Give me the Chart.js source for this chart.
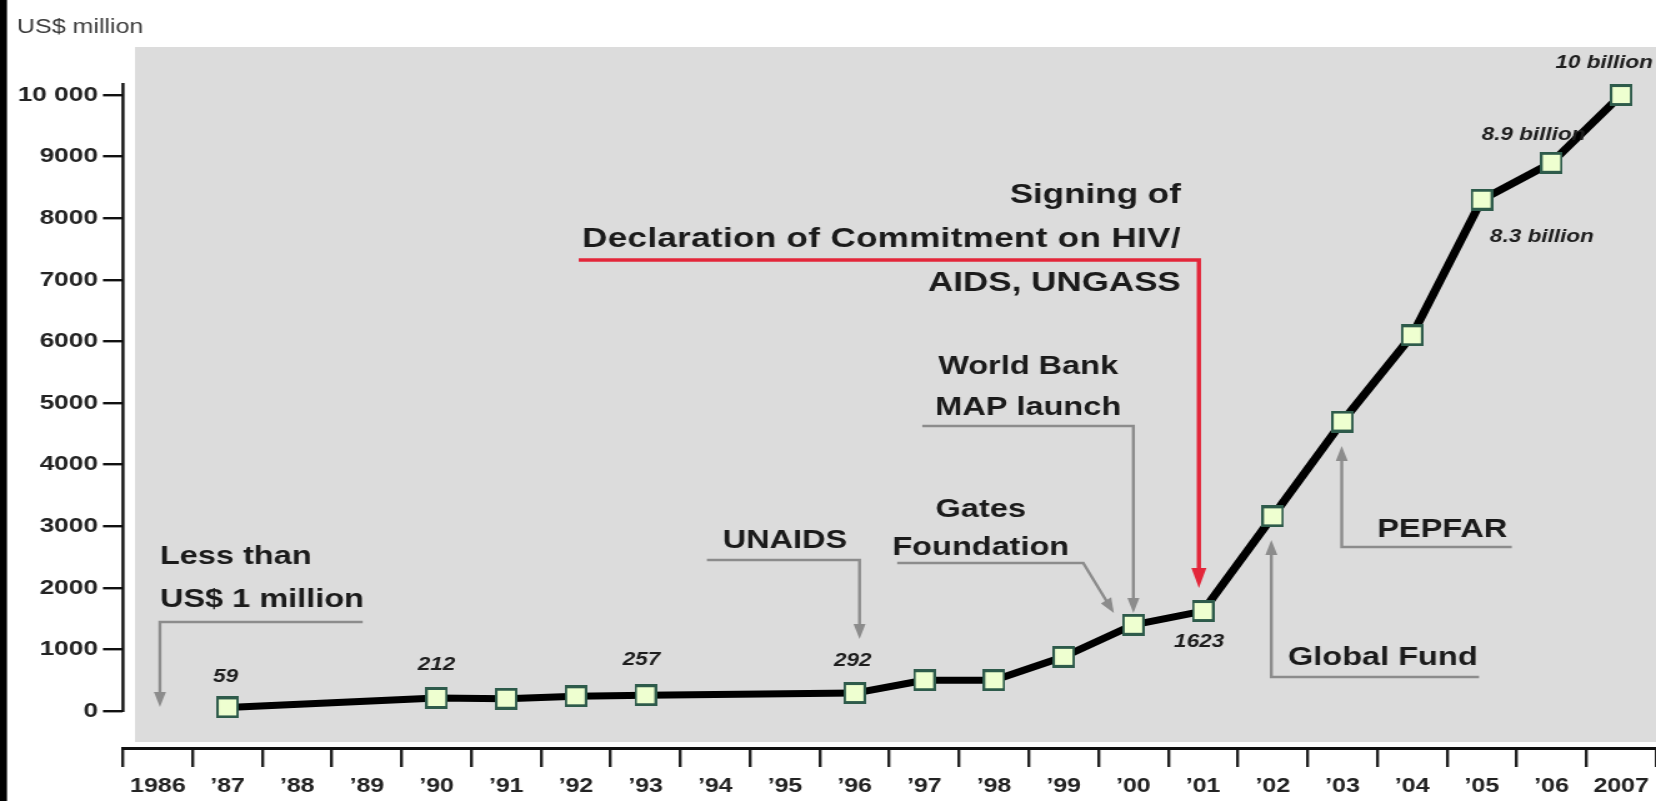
<!DOCTYPE html>
<html>
<head>
<meta charset="utf-8">
<script src="https://cdn.jsdelivr.net/npm/chart.js@4.4.1/dist/chart.umd.min.js"></script>
<style>
  html, body { margin: 0; padding: 0; background: #ffffff; overflow: hidden; }
  #wrap { position: absolute; left: 0; top: 0; width: 1325px; height: 801px;
          transform: scaleX(1.24981); transform-origin: 0 0; }
  canvas { display: block; }
</style>
</head>
<body>
<div id="wrap"><canvas id="c" width="1325" height="801"></canvas></div>
<script>
// ---------------- DATA ----------------
const years = ['1986', '\u201987', '\u201988', '\u201989', '\u201990', '\u201991', '\u201992', '\u201993',
               '\u201994', '\u201995', '\u201996', '\u201997', '\u201998', '\u201999', '\u201900', '\u201901',
               '\u201902', '\u201903', '\u201904', '\u201905', '\u201906', '2007'];
const funding = [null, 59, null, null, 212, 200, 240, 257, null, null, 292, 500, 500, 880, 1400, 1623,
                 3160, 4700, 6100, 8300, 8900, 10000];
const valueLabels = [null, '59', null, null, '212', null, null, '257', null, null, '292', null, null,
                     null, null, '1623', null, null, null, '8.3 billion', '8.9 billion', '10 billion'];
const yTicks = [0, 1000, 2000, 3000, 4000, 5000, 6000, 7000, 8000, 9000, 10000];
const yTickText = ['0', '1000', '2000', '3000', '4000', '5000', '6000', '7000', '8000', '9000', '10 000'];
const yAxisTitle = 'US$ million';

// annotation texts (anchored in data space: category index, value)
const noteTexts = [
  { t: 'Less than', i: 0.03, v: 2500, align: 'left', size: 26 },
  { t: 'US$ 1 million', i: 0.03, v: 1802, align: 'left', size: 26 },
  { t: 'UNAIDS', i: 9.0, v: 2760, align: 'center', size: 26 },
  { t: 'Gates', i: 11.81, v: 3263, align: 'center', size: 26 },
  { t: 'Foundation', i: 11.81, v: 2646, align: 'center', size: 26 },
  { t: 'World Bank', i: 12.49, v: 5584, align: 'center', size: 26 },
  { t: 'MAP launch', i: 12.49, v: 4919, align: 'center', size: 26 },
  { t: 'Signing of', i: 14.68, v: 8377, align: 'right', size: 28 },
  { t: 'Declaration of Commitment on HIV/', i: 14.68, v: 7662, align: 'right', size: 28, spacing: '0.28px' },
  { t: 'AIDS, UNGASS', i: 14.68, v: 6948, align: 'right', size: 28 },
  { t: 'PEPFAR', i: 17.5, v: 2938, align: 'left', size: 26 },
  { t: 'Global Fund', i: 16.22, v: 860, align: 'left', size: 26 }
];
const connectors = [
  { path: [[2.94, 1445], [0.03, 1445], [0.03, 65]], color: '#8c8c8c', width: 2.4, head: [15, 6] },
  { path: [[7.88, 2451], [10.07, 2451], [10.07, 1169]], color: '#8c8c8c', width: 2.4, head: [15, 6] },
  { path: [[10.61, 2403], [13.28, 2403], [13.72, 1590]], color: '#8c8c8c', width: 2.4, head: [15, 6] },
  { path: [[10.97, 4627], [14.0, 4627], [14.0, 1591]], color: '#8c8c8c', width: 2.4, head: [15, 6] },
  { path: [[19.43, 2662], [16.99, 2662], [16.99, 4302]], color: '#8c8c8c', width: 2.4, head: [15, 6] },
  { path: [[18.96, 552], [15.98, 552], [15.98, 2776]], color: '#8c8c8c', width: 2.4, head: [15, 6] },
  { path: [[6.04, 7321], [14.94, 7321], [14.94, 1997]], color: '#e3263a', width: 3.4, head: [20, 7.5] }
];
// offsets of value labels from their points (display px)
const labelOffsets = { 1: [-2, -30], 4: [0, -33], 7: [-4, -35], 10: [-2, -32], 15: [-4, 31],
                       19: [60, 37], 20: [-18, -28], 21: [-17, -32] };

// ---------------- RENDER ----------------
const SX = 1656 / 1325; // horizontal stretch of the original picture

function makeMarker() {
  const c = document.createElement('canvas');
  c.width = 18; c.height = 22;
  const g = c.getContext('2d');
  g.fillStyle = '#2e5b4b';
  g.fillRect(0, 0, 18, 22);
  g.fillStyle = '#eeffd0';
  g.fillRect(2, 3, 14, 16);
  return c;
}

function arrowHead(ctx, a, b, len, half) {
  const ax = a[0] * SX, ay = a[1], bx = b[0] * SX, by = b[1];
  const dx = bx - ax, dy = by - ay, d = Math.hypot(dx, dy) || 1;
  const ux = dx / d, uy = dy / d;
  const baseX = bx - ux * len, baseY = by - uy * len;
  ctx.beginPath();
  ctx.moveTo(b[0], b[1]);
  ctx.lineTo((baseX - uy * half) / SX, baseY + ux * half);
  ctx.lineTo((baseX + uy * half) / SX, baseY - ux * half);
  ctx.closePath();
  ctx.fill();
  return [(baseX + ux * 2) / SX, baseY + uy * 2];
}

const backgroundPlugin = {
  id: 'bg',
  beforeDraw(chart) {
    const { ctx, chartArea: ca, width, height } = chart;
    ctx.save();
    ctx.fillStyle = '#ffffff';
    ctx.fillRect(0, 0, width, height);
    ctx.fillStyle = '#dcdcdc';
    const left = ca.left + 9.6;
    ctx.fillRect(left, ca.top - 1, width - left, ca.bottom - 6 - (ca.top - 1));
    ctx.fillStyle = '#000000';
    ctx.fillRect(0, 0, 5.6, height);
    // y axis title
    ctx.fillStyle = '#3a3a3a';
    ctx.font = '20px "Liberation Sans", Arial, sans-serif';
    ctx.textAlign = 'left';
    ctx.textBaseline = 'middle';
    ctx.fillText(yAxisTitle, 13.6, 27);
    ctx.restore();
  }
};

const axisLinePlugin = {
  id: 'yline',
  afterDraw(chart) {
    const { ctx, chartArea: ca } = chart;
    const y = chart.scales.y;
    ctx.save();
    ctx.strokeStyle = '#111111';
    ctx.lineWidth = 2.4;
    ctx.beginPath();
    ctx.moveTo(ca.left, y.getPixelForValue(0) + 1);
    ctx.lineTo(ca.left, y.getPixelForValue(10195));
    ctx.stroke();
    ctx.restore();
  }
};

const notesPlugin = {
  id: 'notes',
  beforeDatasetsDraw(chart) {
    const { ctx } = chart;
    const xs = chart.scales.x, ys = chart.scales.y;
    const P = p => [xs.getPixelForValue(p[0]), ys.getPixelForValue(p[1])];
    ctx.save();
    connectors.forEach(cn => {
      const pts = cn.path.map(P);
      ctx.fillStyle = cn.color;
      const n = pts.length;
      const end = arrowHead(ctx, pts[n - 2], pts[n - 1], cn.head[0], cn.head[1]);
      ctx.strokeStyle = cn.color;
      ctx.lineWidth = cn.width;
      ctx.lineJoin = 'miter';
      ctx.beginPath();
      ctx.moveTo(pts[0][0], pts[0][1]);
      for (let k = 1; k < n - 1; k++) ctx.lineTo(pts[k][0], pts[k][1]);
      ctx.lineTo(end[0], end[1]);
      ctx.stroke();
    });
    ctx.fillStyle = '#1b1b1b';
    ctx.textBaseline = 'middle';
    noteTexts.forEach(nt => {
      const [x, y] = P([nt.i, nt.v]);
      ctx.font = 'bold ' + nt.size + 'px "Liberation Sans", Arial, sans-serif';
      ctx.letterSpacing = nt.spacing || '0px';
      ctx.textAlign = nt.align;
      ctx.fillText(nt.t, x, y);
    });
    ctx.letterSpacing = '0px';
    ctx.restore();
  },
  afterDatasetsDraw(chart) {
    const { ctx } = chart;
    const meta = chart.getDatasetMeta(0);
    ctx.save();
    ctx.fillStyle = '#1e1e1e';
    ctx.font = 'italic bold 18px "Liberation Sans", Arial, sans-serif';
    ctx.textAlign = 'center';
    ctx.textBaseline = 'middle';
    valueLabels.forEach((lab, i) => {
      if (!lab) return;
      const el = meta.data[i];
      const off = labelOffsets[i] || [0, -30];
      ctx.fillText(lab, el.x + off[0] / SX, el.y + off[1]);
    });
    ctx.restore();
  }
};

const xTickFont = { family: '"Liberation Sans", Arial, sans-serif', weight: 'bold', size: 20 };
const yTickFont = { family: '"Liberation Sans", Arial, sans-serif', weight: 'bold', size: 21 };

new Chart(document.getElementById('c'), {
  type: 'line',
  data: {
    labels: years,
    datasets: [{
      data: funding,
      borderColor: '#000000',
      borderWidth: 7,
      borderJoinStyle: 'round',
      borderCapStyle: 'round',
      tension: 0,
      spanGaps: true,
      pointStyle: makeMarker(),
      pointRadius: 10,
      pointHoverRadius: 10,
      clip: false
    }]
  },
  options: {
    responsive: false,
    animation: false,
    events: [],
    layout: { autoPadding: false, padding: { top: 48, left: 0, right: 0, bottom: 0 } },
    plugins: { legend: { display: false }, tooltip: { enabled: false }, title: { display: false } },
    scales: {
      x: {
        type: 'category',
        offset: true,
        afterFit: s => { s.height = 53; s.paddingLeft = 0; s.paddingRight = 0; },
        border: { display: true, color: '#111111', width: 3 },
        grid: { offset: true, drawOnChartArea: false, drawTicks: true, tickLength: 19,
                color: '#222222', lineWidth: 2.4 },
        ticks: { autoSkip: false, maxRotation: 0, minRotation: 0, padding: 7,
                 color: '#232323', font: xTickFont }
      },
      y: {
        type: 'linear',
        min: -600,
        max: 10763,
        afterFit: s => { s.width = 98.4; s.paddingTop = 0; s.paddingBottom = 0; },
        afterBuildTicks: s => { s.ticks = yTicks.map(v => ({ value: v })); },
        border: { display: false },
        grid: { drawOnChartArea: false, drawTicks: true, tickLength: 16,
                color: '#111111', lineWidth: 2.4 },
        ticks: { padding: 4, color: '#232323', font: yTickFont,
                 callback: v => yTickText[yTicks.indexOf(v)] }
      }
    }
  },
  plugins: [backgroundPlugin, axisLinePlugin, notesPlugin]
});
</script>
</body>
</html>
